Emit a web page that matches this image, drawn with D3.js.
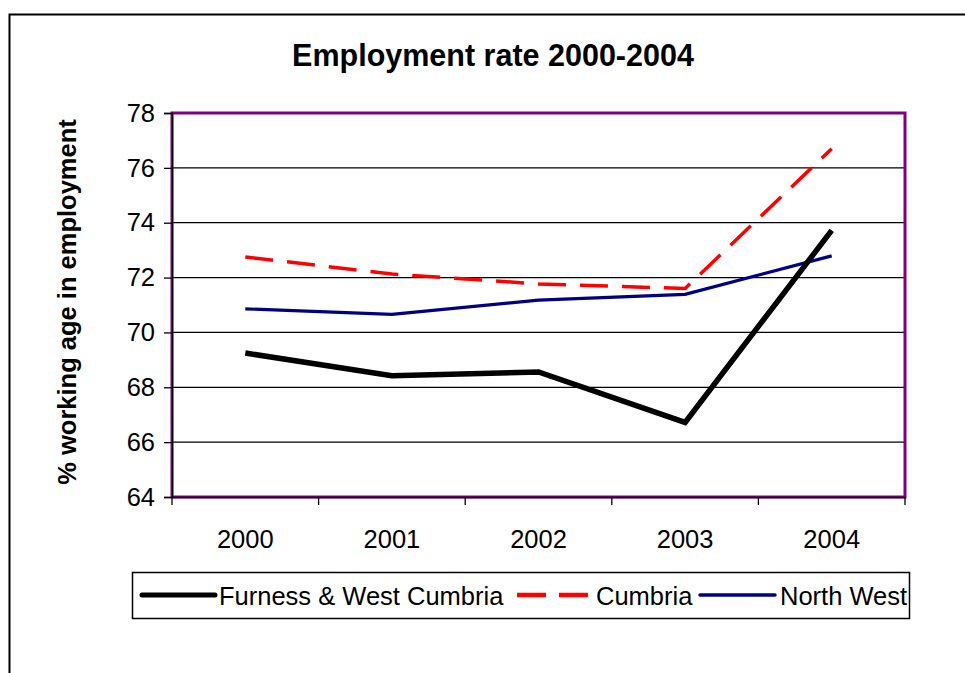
<!DOCTYPE html>
<html><head><meta charset="utf-8">
<script src="https://cdn.jsdelivr.net/npm/d3@7"></script>
<style>body{margin:0;background:#fff;} svg{display:block;font-family:"Liberation Sans",Arial,sans-serif;}</style>
</head><body>
<script>
const years = ["2000","2001","2002","2003","2004"];
const furness = [69.25, 68.42, 68.56, 66.72, 73.72];
const cumbria = [72.75, 72.13, 71.77, 71.60, 76.70];
const northWest = [70.86, 70.66, 71.18, 71.39, 72.79];
const yTicks = [64,66,68,70,72,74,76,78];
const seriesNames = ["Furness & West Cumbria","Cumbria","North West"];
const title = "Employment rate 2000-2004";
const yLabel = "% working age in employment";

const W=965,H=673;
const svg=d3.select("body").append("svg").attr("width",W).attr("height",H);
svg.append("rect").attr("x",9.5).attr("y",14.5).attr("width",1000).attr("height",800)
  .attr("fill","#fff").attr("stroke","#000").attr("stroke-width",2);

const L=172,R=905,T=113,B=497;
const x=d3.scaleBand().domain(years).range([L,R]).padding(0);
const y=d3.scaleLinear().domain([64,78]).range([B,T]);
const cx=d=>x(d)+x.bandwidth()/2;

// gridlines
svg.append("g").selectAll("line").data(yTicks.filter(t=>t>64&&t<78)).join("line")
  .attr("x1",L).attr("x2",R).attr("y1",d=>y(d)).attr("y2",d=>y(d))
  .attr("stroke","#000").attr("stroke-width",1.3);

// plot border
svg.append("rect").attr("x",L).attr("y",T).attr("width",R-L).attr("height",B-T)
  .attr("fill","none").attr("stroke","#800080").attr("stroke-width",3);

// y axis
const yAxis=d3.axisLeft(y).tickValues(yTicks).tickSize(8).tickPadding(9);
const gy=svg.append("g").attr("transform",`translate(${L},0)`).call(yAxis);
gy.select(".domain").attr("stroke","#000").attr("stroke-width",1.3);
gy.selectAll(".tick line").attr("stroke","#000").attr("stroke-width",1.3);
gy.selectAll("text").attr("font-size",25.5).attr("fill","#000").attr("font-family","Liberation Sans, Arial, sans-serif");

// x axis
const xAxis=d3.axisBottom(x).tickSize(0).tickPadding(33);
const gx=svg.append("g").attr("transform",`translate(0,${B})`).call(xAxis);
gx.select(".domain").attr("stroke","#000").attr("stroke-width",1.3);
gx.selectAll("text").attr("font-size",25.5).attr("fill","#000").attr("font-family","Liberation Sans, Arial, sans-serif");
const bnds=years.map(d=>x(d)).concat([R]);
svg.append("g").selectAll("line").data(bnds).join("line")
  .attr("x1",d=>d).attr("x2",d=>d).attr("y1",B).attr("y2",B+8)
  .attr("stroke","#000").attr("stroke-width",1.3);

// lines
const line=d3.line().x((d,i)=>cx(years[i])).y(d=>y(d));
const styles=[
  {data:furness,color:"#000",w:5.5,dash:null},
  {data:cumbria,color:"#ff0000",w:3.5,dash:"28,14"},
  {data:northWest,color:"#000080",w:3.2,dash:null}
];
[2,1,0].forEach(i=>{
  const s=styles[i];
  svg.append("path").attr("d",line(s.data)).attr("fill","none")
    .attr("stroke",s.color).attr("stroke-width",s.w)
    .attr("stroke-dasharray",s.dash).attr("stroke-linejoin","miter").attr("stroke-linecap","butt");
});

// title
svg.append("text").attr("x",493).attr("y",66).attr("text-anchor","middle")
  .attr("font-size",30.5).attr("font-weight","bold").text(title);
// y label
svg.append("text").attr("transform","translate(76,302) rotate(-90)").attr("text-anchor","middle")
  .attr("font-size",25.5).attr("font-weight","bold").text(yLabel);

// legend
const lg=svg.append("g");
lg.append("rect").attr("x",132.5).attr("y",572.5).attr("width",777).attr("height",46)
  .attr("fill","#fff").attr("stroke","#000").attr("stroke-width",1.5);
const legItems=[
  {x1:142,x2:215,tx:219},
  {x1:517,x2:588,tx:596},
  {x1:700,x2:775,tx:780}
];
legItems.forEach((it,i)=>{
  const s=styles[i];
  lg.append("line").attr("x1",it.x1).attr("x2",it.x2).attr("y1",595).attr("y2",595)
    .attr("stroke",s.color).attr("stroke-width",i===0?5:(i===1?4.5:3.5))
    .attr("stroke-dasharray",s.dash?"29,13":null)
    .attr("stroke-linecap",i===1?"butt":"round");
  lg.append("text").attr("x",it.tx).attr("y",605).attr("font-size",25.5).text(seriesNames[i]);
});
</script>
</body></html>
